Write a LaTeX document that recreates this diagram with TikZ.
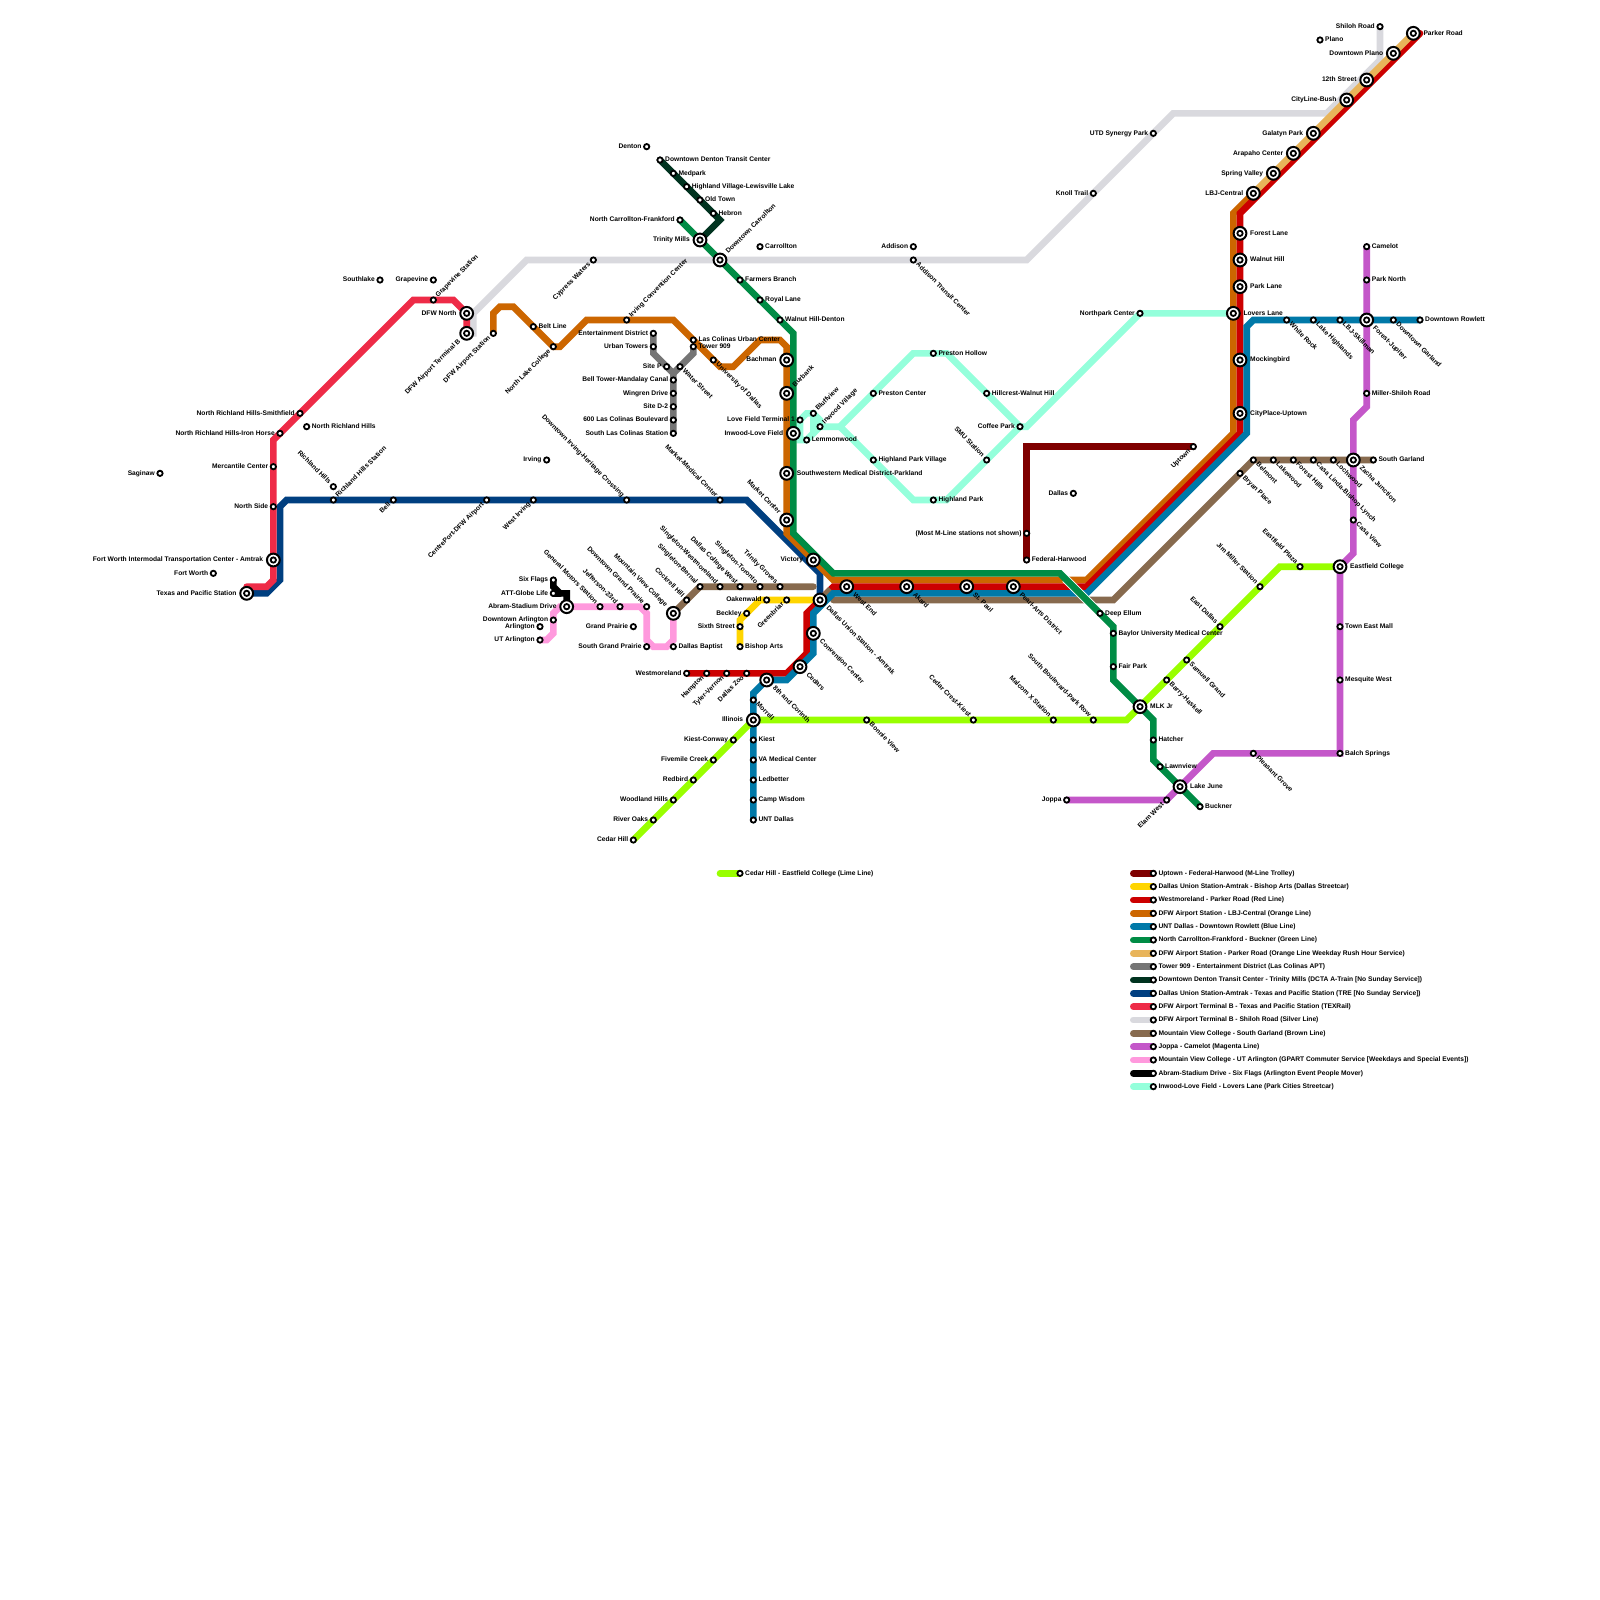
\documentclass[tikz,border=0pt]{standalone}
\usepackage{fontspec}
\setmainfont{Liberation Sans}
\usetikzlibrary{backgrounds}
\definecolor{cM}{HTML}{7F0000}
\definecolor{cYel}{HTML}{FFD500}
\definecolor{cRed}{HTML}{CC0000}
\definecolor{cOra}{HTML}{CC6600}
\definecolor{cBlu}{HTML}{0079A8}
\definecolor{cGrn}{HTML}{008C45}
\definecolor{cGold}{HTML}{E8B45A}
\definecolor{cGray}{HTML}{757575}
\definecolor{cDct}{HTML}{00331F}
\definecolor{cTre}{HTML}{003F80}
\definecolor{cTex}{HTML}{EE2B47}
\definecolor{cSil}{HTML}{D9D9DE}
\definecolor{cBrn}{HTML}{876A4E}
\definecolor{cMag}{HTML}{C457C9}
\definecolor{cPnk}{HTML}{FF99DD}
\definecolor{cMnt}{HTML}{94FFDB}
\definecolor{cLim}{HTML}{99FF00}
\newdimen\lbloff
\tikzset{
  ln/.style={line width=6.667pt,line cap=round,line join=miter},
  mk/.style={circle,draw=black,fill=white,line width=1.8pt,minimum size=5.3pt,inner sep=0pt},
  hubmk/.style={circle,draw=black,fill=white,line width=2pt,minimum size=12.8pt,inner sep=0pt},
  lbl/.style={inner sep=0pt,text height=4.8pt,text depth=1.4pt,font=\fontsize{6.667}{8}\selectfont\bfseries,text=black},
  lR/.style={anchor=west,xshift=\lbloff},
  lL/.style={anchor=east,xshift=-\lbloff},
  UR/.style={xshift=0.707\lbloff,yshift=0.707\lbloff,rotate=45,anchor=west},
  DL/.style={xshift=-0.707\lbloff,yshift=-0.707\lbloff,rotate=45,anchor=east},
  DR/.style={xshift=0.707\lbloff,yshift=-0.707\lbloff,rotate=-45,anchor=west},
  UL/.style={xshift=-0.707\lbloff,yshift=0.707\lbloff,rotate=-45,anchor=east},
}
\newcommand{\stn}[4][lR]{\lbloff=5pt\node[mk] (#2) at (#3) {};\node[lbl,#1] (#2t) at (#2.center) {#4};}
\newcommand{\hub}[4][lR]{\lbloff=10pt\node[hubmk] (#2) at (#3) {};\node[mk] (#2c) at (#2.center) {};\node[lbl,#1] (#2t) at (#2.center) {#4};}
\newcommand{\leg}[5]{\lbloff=5pt\coordinate (#1a) at (#3,#4);\node[mk] (#1) at (#3+1.5,#4) {};\node[lbl,lR] (#1t) at (#1.center) {#5};
  \begin{pgfonlayer}{background}\draw[ln,#2] (#1a) -- (#1.center);\end{pgfonlayer}}
\begin{document}
\begin{tikzpicture}[x=13.3333pt,y=-13.3333pt]
\useasboundingbox (-0.5,0) rectangle (119.5,120);
% --- stations west
\stn[lL]{saginaw}{11.5,35.5}{Saginaw}
\stn[lL]{southlake}{28,21}{Southlake}
\stn[lL]{grapevine}{32,21}{Grapevine}
\stn[UR]{grapevines}{32,22.5}{Grapevine Station}
\hub[lL]{dfwnorth}{34.5,23.5}{DFW North}
\hub[DL]{dfwb}{34.5,25}{DFW Airport Terminal B}
\stn[DL]{dfwair}{36.5,25}{DFW Airport Station}
\stn[lR]{beltline}{39.5,24.5}{Belt Line}
\stn[DL]{northlake}{41,26}{North Lake College}
\stn[DL]{cypress}{44,19.5}{Cypress Waters}
\stn[UR]{irvingcc}{46.5,24}{Irving Convention Center}
\stn[lL]{nrhs}{22,31}{North Richland Hills-Smithfield}
\stn[lR]{nrh}{22.5,32}{North Richland Hills}
\stn[lL]{nrhi}{20.5,32.5}{North Richland Hills-Iron Horse}
\stn[lL]{mercantile}{20,35}{Mercantile Center}
\stn[UL]{richland}{24.5,36.5}{Richland Hills}
\stn[UR]{richlands}{24.5,37.5}{Richland Hills Station}
\stn[lL]{northside}{20,38}{North Side}
\stn[DL]{bell}{29,37.5}{Bell}
\stn[DL]{centreport}{36,37.5}{CentrePort-DFW Airport}
\stn[DL]{westirving}{39.5,37.5}{West Irving}
\stn[lL]{irving}{40.5,34.5}{Irving}
\stn[UL]{dirving}{46.5,37.5}{Downtown Irving-Heritage Crossing}
\stn[UL]{marketmed}{53.5,37.5}{Market-Medical Center}
\hub[UL]{market}{58.5,39}{Market Center}
\hub[lL]{fwitc}{20,42}{Fort Worth Intermodal Transportation Center - Amtrak}
\stn[lL]{fortworth}{15.5,43}{Fort Worth}
\hub[lL]{tps}{18,44.5}{Texas and Pacific Station}
% --- Las Colinas
\stn[lL]{entdist}{48.5,25}{Entertainment District}
\stn[lL]{urbant}{48.5,26}{Urban Towers}
\stn[lR]{lascol}{51.5,25.5}{Las Colinas Urban Center}
\stn[lR]{tower}{51.5,26}{Tower 909}
\stn[lL]{sitep}{49.5,27.5}{Site P}
\stn[DR]{water}{50.5,27.5}{Water Street}
\stn[DR]{udallas}{53,27}{University of Dallas}
\stn[lL]{belltower}{50,28.5}{Bell Tower-Mandalay Canal}
\stn[lL]{wingren}{50,29.5}{Wingren Drive}
\stn[lL]{sited}{50,30.5}{Site D-2}
\stn[lL]{lc600}{50,31.5}{600 Las Colinas Boulevard}
\stn[lL]{southlc}{50,32.5}{South Las Colinas Station}
% --- Denton / green north
\stn[lL]{denton}{48,11}{Denton}
\stn[lR]{ddtc}{49,12}{Downtown Denton Transit Center}
\stn[lR]{medpark}{50,13}{Medpark}
\stn[lR]{highland}{51,14}{Highland Village-Lewisville Lake}
\stn[lR]{oldtown}{52,15}{Old Town}
\stn[lR]{hebron}{53,16}{Hebron}
\stn[lL]{ncf}{50.5,16.5}{North Carrollton-Frankford}
\hub[lL]{trinity}{52,18}{Trinity Mills}
\hub[UR]{dcarr}{53.5,19.5}{Downtown Carrollton}
\stn[lR]{carrollton}{56.5,18.5}{Carrollton}
\stn[lR]{farmers}{55,21}{Farmers Branch}
\stn[lR]{royal}{56.5,22.5}{Royal Lane}
\stn[lR]{walnutd}{58,24}{Walnut Hill-Denton}
\stn[lL]{addison}{68,18.5}{Addison}
\stn[DR]{addisontc}{68,19.5}{Addison Transit Center}
\hub[lL]{bachman}{58.5,27}{Bachman}
\hub[UR]{burbank}{58.5,29.5}{Burbank}
\stn[lL]{lovet}{59.5,31.5}{Love Field Terminal 1}
\hub[lL]{inwoodlf}{59,32.5}{Inwood-Love Field}
\stn[UR]{bluffview}{60.5,31}{Bluffview}
\stn[UR]{inwoodv}{61,32}{Inwood Village}
\stn[lR]{lemmon}{60,33}{Lemmonwood}
\hub[lR]{swmed}{58.5,35.5}{Southwestern Medical District-Parkland}
\stn[lR]{preston}{65,29.5}{Preston Center}
\stn[lR]{hpv}{65,34.5}{Highland Park Village}
\stn[lR]{prestonh}{69.5,26.5}{Preston Hollow}
\stn[lR]{hpark}{69.5,37.5}{Highland Park}
\stn[lR]{hillcrest}{73.5,29.5}{Hillcrest-Walnut Hill}
\stn[lL]{coffee}{76,32}{Coffee Park}
\stn[UL]{smu}{73.5,34.5}{SMU Station}
\stn[lL]{northpark}{85,23.5}{Northpark Center}
\hub[lR]{lovers}{92,23.5}{Lovers Lane}
% --- downtown
\hub[lL]{victory}{60.5,42}{Victory}
\hub[DR]{union}{61,45}{Dallas Union Station - Amtrak}
\hub[DR]{convention}{60.5,47.5}{Convention Center}
\hub[DR]{cedars}{59.5,50}{Cedars}
\hub[DR]{eighth}{57,51}{8th and Corinth}
\hub[DR]{westend}{63,44}{West End}
\hub[DR]{akard}{67.5,44}{Akard}
\hub[DR]{stpaul}{72,44}{St. Paul}
\hub[DR]{pearl}{75.5,44}{Pearl-Arts District}
\stn[lL]{westmore}{51,50.5}{Westmoreland}
\stn[DL]{hampton}{52.5,50.5}{Hampton}
\stn[DL]{tyler}{54,50.5}{Tyler-Vernon}
\stn[DL]{zoo}{55.5,50.5}{Dallas Zoo}
\stn[DR]{morrell}{56,52.5}{Morrell}
\hub[lL]{illinois}{56,54}{Illinois}
\stn[lR]{kiest}{56,55.5}{Kiest}
\stn[lR]{vamed}{56,57}{VA Medical Center}
\stn[lR]{ledbetter}{56,58.5}{Ledbetter}
\stn[lR]{campw}{56,60}{Camp Wisdom}
\stn[lR]{unt}{56,61.5}{UNT Dallas}
\stn[lL]{kiestc}{54.5,55.5}{Kiest-Conway}
\stn[lL]{fivemile}{53,57}{Fivemile Creek}
\stn[lL]{redbird}{51.5,58.5}{Redbird}
\stn[lL]{woodland}{50,60}{Woodland Hills}
\stn[lL]{riveroaks}{48.5,61.5}{River Oaks}
\stn[lL]{cedarhill}{47,63}{Cedar Hill}
\stn[DR]{bonnie}{64.5,54}{Bonnie View}
% --- Arlington / Grand Prairie
\stn[lL]{sixflags}{41,43.5}{Six Flags}
\stn[lL]{globelife}{41,44.5}{ATT-Globe Life}
\hub[lL]{abram}{42,45.5}{Abram-Stadium Drive}
\stn[lL]{darl}{41,46.5}{Downtown Arlington}
\stn[lL]{arlington}{40,47}{Arlington}
\stn[lL]{utarl}{40,48}{UT Arlington}
\stn[UL]{gm}{44.5,45.5}{General Motors Station}
\stn[UL]{jefferson}{46,45.5}{Jefferson-23rd}
\stn[UL]{dgp}{48,45.5}{Downtown Grand Prairie}
\stn[lL]{gp}{47,47}{Grand Prairie}
\stn[lL]{sgp}{48,48.5}{South Grand Prairie}
\hub[UL]{mvc}{50,46}{Mountain View College}
\stn[lR]{baptist}{50,48.5}{Dallas Baptist}
\stn[UL]{cockrell}{51,45}{Cockrell Hill}
\stn[UL]{sbernal}{52,44}{Singleton-Bernal}
\stn[UL]{swest}{53.5,44}{Singleton-Westmoreland}
\stn[UL]{dcw}{55,44}{Dallas College West}
\stn[UL]{storonto}{56.5,44}{Singleton-Toronto}
\stn[UL]{tgroves}{58,44}{Trinity Groves}
\stn[lL]{oakenwald}{57,45}{Oakenwald}
\stn[DL]{greenbriar}{58.5,45}{Greenbriar}
\stn[lL]{beckley}{55.5,46}{Beckley}
\stn[lL]{sixth}{55,47}{Sixth Street}
\stn[lR]{bishop}{55,48.5}{Bishop Arts}
% --- east
\stn[lL]{mostm}{76.5,40}{(Most M-Line stations not shown)}
\stn[lR]{federal}{76.5,42}{Federal-Harwood}
\stn[DL]{uptown}{89,33.5}{Uptown}
\stn[lL]{dallas}{80,37}{Dallas}
\stn[lR]{deepe}{82,46}{Deep Ellum}
\stn[lR]{baylor}{83,47.5}{Baylor University Medical Center}
\stn[lR]{fairpark}{83,50}{Fair Park}
\hub[lR]{mlk}{85,53}{MLK Jr}
\stn[lR]{hatcher}{86,55.5}{Hatcher}
\stn[lR]{lawnview}{86.5,57.5}{Lawnview}
\hub[lR]{lakejune}{88,59}{Lake June}
\stn[lR]{buckner}{89.5,60.5}{Buckner}
\stn[lL]{joppa}{79.5,60}{Joppa}
\stn[DL]{elam}{87,60}{Elam West}
\stn[UL]{cedarc}{72.5,54}{Cedar Crest-Kiest}
\stn[UL]{malcom}{78.5,54}{Malcom X Station}
\stn[UL]{southb}{81.5,54}{South Boulevard-Park Row}
\stn[DR]{barry}{87,51}{Barry-Haskell}
\stn[DR]{samuell}{88.5,49.5}{Samuell Grand}
\stn[UL]{eastd}{91,47}{East Dallas}
\stn[UL]{jimm}{94,44}{Jim Miller Station}
\stn[UL]{eastp}{97,42.5}{Eastfield Plaza}
\hub[lR]{eastc}{100,42.5}{Eastfield College}
\stn[DR]{pleasant}{93.5,56.5}{Pleasant Grove}
\stn[lR]{balch}{100,56.5}{Balch Springs}
\stn[lR]{mesquite}{100,51}{Mesquite West}
\stn[lR]{towne}{100,47}{Town East Mall}
\stn[DR]{casav}{101,39}{Casa View}
\stn[DR]{bryan}{92.5,35.5}{Bryan Place}
\stn[DR]{belmont}{93.5,34.5}{Belmont}
\stn[DR]{lakewood}{95,34.5}{Lakewood}
\stn[DR]{foresth}{96.5,34.5}{Forest Hills}
\stn[DR]{casal}{98,34.5}{Casa Linda-Bishop Lynch}
\stn[DR]{lochwood}{99.5,34.5}{Lochwood}
\hub[DR]{zacha}{101,34.5}{Zacha Junction}
\stn[lR]{southg}{102.5,34.5}{South Garland}
\hub[lR]{cityplace}{92.5,31}{CityPlace-Uptown}
\hub[lR]{mocking}{92.5,27}{Mockingbird}
\hub[lR]{parkl}{92.5,21.5}{Park Lane}
\hub[lR]{walnuth}{92.5,19.5}{Walnut Hill}
\hub[lR]{forestl}{92.5,17.5}{Forest Lane}
\hub[lL]{lbj}{93.5,14.5}{LBJ-Central}
\hub[lL]{spring}{95,13}{Spring Valley}
\hub[lL]{arapaho}{96.5,11.5}{Arapaho Center}
\hub[lL]{galatyn}{98,10}{Galatyn Park}
\hub[lL]{cityline}{100.5,7.5}{CityLine-Bush}
\hub[lL]{twelfth}{102,6}{12th Street}
\hub[lL]{dplano}{104,4}{Downtown Plano}
\hub[lR]{parker}{105.5,2.5}{Parker Road}
\stn[lL]{shiloh}{103,2}{Shiloh Road}
\stn[lR]{plano}{98.5,3}{Plano}
\stn[lL]{utd}{86,10}{UTD Synergy Park}
\stn[lL]{knoll}{81.5,14.5}{Knoll Trail}
\stn[lR]{camelot}{102,18.5}{Camelot}
\stn[lR]{parkn}{102,21}{Park North}
\stn[lR]{millers}{102,29.5}{Miller-Shiloh Road}
\stn[DR]{whiter}{96,24}{White Rock}
\stn[DR]{lakeh}{98,24}{Lake Highlands}
\stn[DR]{lbjs}{100,24}{LBJ-Skillman}
\hub[DR]{forestj}{102,24}{Forest-Jupiter}
\stn[DR]{dgarland}{104,24}{Downtown Garland}
\stn[lR]{drowlett}{106,24}{Downtown Rowlett}
% --- lines
\begin{pgfonlayer}{background}
\fill[white] (-0.5,0) rectangle (119.5,120);
% silver
\draw[ln,cSil] (dfwb.center) -- (35,25) -- (35,23.5) -- (39,19.5) -- (cypress.center) -- (dcarr.center) -- (addisontc.center) -- (76.5,19.5) -- (knoll.center) -- (utd.center) -- (87.5,8.5) -- (99,8.5) -- (103,4.5) -- (shiloh.center);
% mint
\draw[ln,cMnt] (lovers.center) -- (northpark.center) -- (76.5,32) -- (coffee.center) -- (hillcrest.center) -- (70.5,26.5) -- (prestonh.center) -- (68,26.5) -- (preston.center) -- (62.5,32) -- (inwoodv.center);
\draw[ln,cMnt] (coffee.center) -- (smu.center) -- (70.5,37.5) -- (hpark.center) -- (68,37.5) -- (hpv.center) -- (62.5,32);
\draw[ln,cMnt] (inwoodlf.center) -- (59.5,32) -- (lovet.center) -- (60,31) -- (bluffview.center) -- (61,31.5) -- (inwoodv.center) -- (lemmon.center) -- (59.5,33) -- (59.5,32);
\draw[ln,cMnt] (bluffview.center) -- (60.5,32.5);
% M-line
\draw[ln,cM] (federal.center) -- (mostm.center) -- (76.5,33.5) -- (uptown.center);
% yellow
\draw[ln,cYel] (bishop.center) -- (sixth.center) -- (55,46.5) -- (beckley.center) -- (56.5,45) -- (oakenwald.center) -- (greenbriar.center) -- (union.center);
% gray
\draw[ln,cGray] (entdist.center) -- (urbant.center) -- (48.5,26.5) -- (50,28) -- (belltower.center) -- (southlc.center);
\draw[ln,cGray] (tower.center) -- (51.5,26.5) -- (water.center) -- (50,28);
% TRE
\draw[ln,cTre] (tps.center) -- (19.5,44.5) -- (20.5,43.5) -- (20.5,38) -- (21,37.5) -- (55.5,37.5) -- (61,43) -- (union.center);
% orange
\draw[ln,cOra] (dfwair.center) -- (36.5,23.5) -- (37,23) -- (38,23) -- (northlake.center) -- (41.5,26) -- (43.5,24) -- (50,24) -- (53.5,27.5) -- (54.5,27.5) -- (56.5,25.5) -- (58,25.5) -- (58.5,26) -- (58.5,40) -- (62,43.5) -- (81,43.5) -- (92,32.5) -- (92,16) -- (lbj.center);
% red
\draw[ln,cRed] (westmore.center) -- (58.5,50.5) -- (60,49) -- (60,46) -- (union.center) -- (62,44) -- (81,44) -- (92.5,32.5) -- (92.5,16) -- (106,2.5);
% brown
\draw[ln,cBrn] (mvc.center) -- (sbernal.center) -- (60.5,44);
\draw[ln,cBrn,line cap=butt] (union.center) -- (61.8,44.2);
\draw[ln,cBrn] (62,45) -- (83,45) -- (belmont.center) -- (southg.center);
% gold
\draw[ln,cGold,line cap=butt] (lbj.center) -- (parker.center);
% blue
\draw[ln,cBlu] (unt.center) -- (56,52) -- (57,51) -- (58.5,51) -- (60.5,49) -- (60.5,46) -- (62,44.5) -- (81,44.5) -- (93,32.5) -- (93,24.5) -- (93.5,24) -- (drowlett.center);
% DCTA
\draw[ln,cDct] (ddtc.center) -- (53.5,16.5) -- (trinity.center);
% TEXRail
\draw[ln,cTex] (dfwb.center) -- (34.5,23.5) -- (33.5,22.5) -- (30.5,22.5) -- (20,33) -- (20,43.5) -- (19.5,44) -- (18,44);
% magenta
\draw[ln,cMag] (joppa.center) -- (elam.center) -- (90.5,56.5) -- (balch.center) -- (100,42.5) -- (101,41.5) -- (101,31.5) -- (102,30.5) -- (camelot.center);
% lime
\draw[ln,cLim] (cedarhill.center) -- (illinois.center) -- (84,54) -- (95.5,42.5) -- (eastc.center);
% pink
\draw[ln,cPnk] (utarl.center) -- (40.5,48) -- (41,47.5) -- (41,46) -- (41.5,45.5) -- (47.5,45.5) -- (48,46) -- (48,48) -- (48.5,48.5) -- (49.5,48.5) -- (50,48) -- (mvc.center);
% black
\draw[ln,black] (sixflags.center) -- (41,44) -- (41.5,44.5) -- (42,44.5) -- (abram.center);
\draw[ln,black] (globelife.center) -- (41.5,44.5);
% green
\draw[white,line width=8.5pt] (79.4,43.4) -- (81.6,45.6);
\draw[ln,cGrn] (ncf.center) -- (walnutd.center) -- (59,25) -- (59,40) -- (62,43) -- (79,43) -- (83,47) -- (83,51) -- (86,54) -- (86,57) -- (buckner.center);
\end{pgfonlayer}
% --- legend
\leg{lg0}{cLim}{53.5}{65.5}{Cedar Hill - Eastfield College (Lime Line)}
\leg{lg1}{cM}{84.5}{65.5}{Uptown - Federal-Harwood (M-Line Trolley)}
\leg{lg2}{cYel}{84.5}{66.5}{Dallas Union Station-Amtrak - Bishop Arts (Dallas Streetcar)}
\leg{lg3}{cRed}{84.5}{67.5}{Westmoreland - Parker Road (Red Line)}
\leg{lg4}{cOra}{84.5}{68.5}{DFW Airport Station - LBJ-Central (Orange Line)}
\leg{lg5}{cBlu}{84.5}{69.5}{UNT Dallas - Downtown Rowlett (Blue Line)}
\leg{lg6}{cGrn}{84.5}{70.5}{North Carrollton-Frankford - Buckner (Green Line)}
\leg{lg7}{cGold}{84.5}{71.5}{DFW Airport Station - Parker Road (Orange Line Weekday Rush Hour Service)}
\leg{lg8}{cGray}{84.5}{72.5}{Tower 909 - Entertainment District (Las Colinas APT)}
\leg{lg9}{cDct}{84.5}{73.5}{Downtown Denton Transit Center - Trinity Mills (DCTA A-Train [No Sunday Service])}
\leg{lg10}{cTre}{84.5}{74.5}{Dallas Union Station-Amtrak - Texas and Pacific Station (TRE [No Sunday Service])}
\leg{lg11}{cTex}{84.5}{75.5}{DFW Airport Terminal B - Texas and Pacific Station (TEXRail)}
\leg{lg12}{cSil}{84.5}{76.5}{DFW Airport Terminal B - Shiloh Road (Silver Line)}
\leg{lg13}{cBrn}{84.5}{77.5}{Mountain View College - South Garland (Brown Line)}
\leg{lg14}{cMag}{84.5}{78.5}{Joppa - Camelot (Magenta Line)}
\leg{lg15}{cPnk}{84.5}{79.5}{Mountain View College - UT Arlington (GPART Commuter Service [Weekdays and Special Events])}
\leg{lg16}{black}{84.5}{80.5}{Abram-Stadium Drive - Six Flags (Arlington Event People Mover)}
\leg{lg17}{cMnt}{84.5}{81.5}{Inwood-Love Field - Lovers Lane (Park Cities Streetcar)}
\end{tikzpicture}
\end{document}
